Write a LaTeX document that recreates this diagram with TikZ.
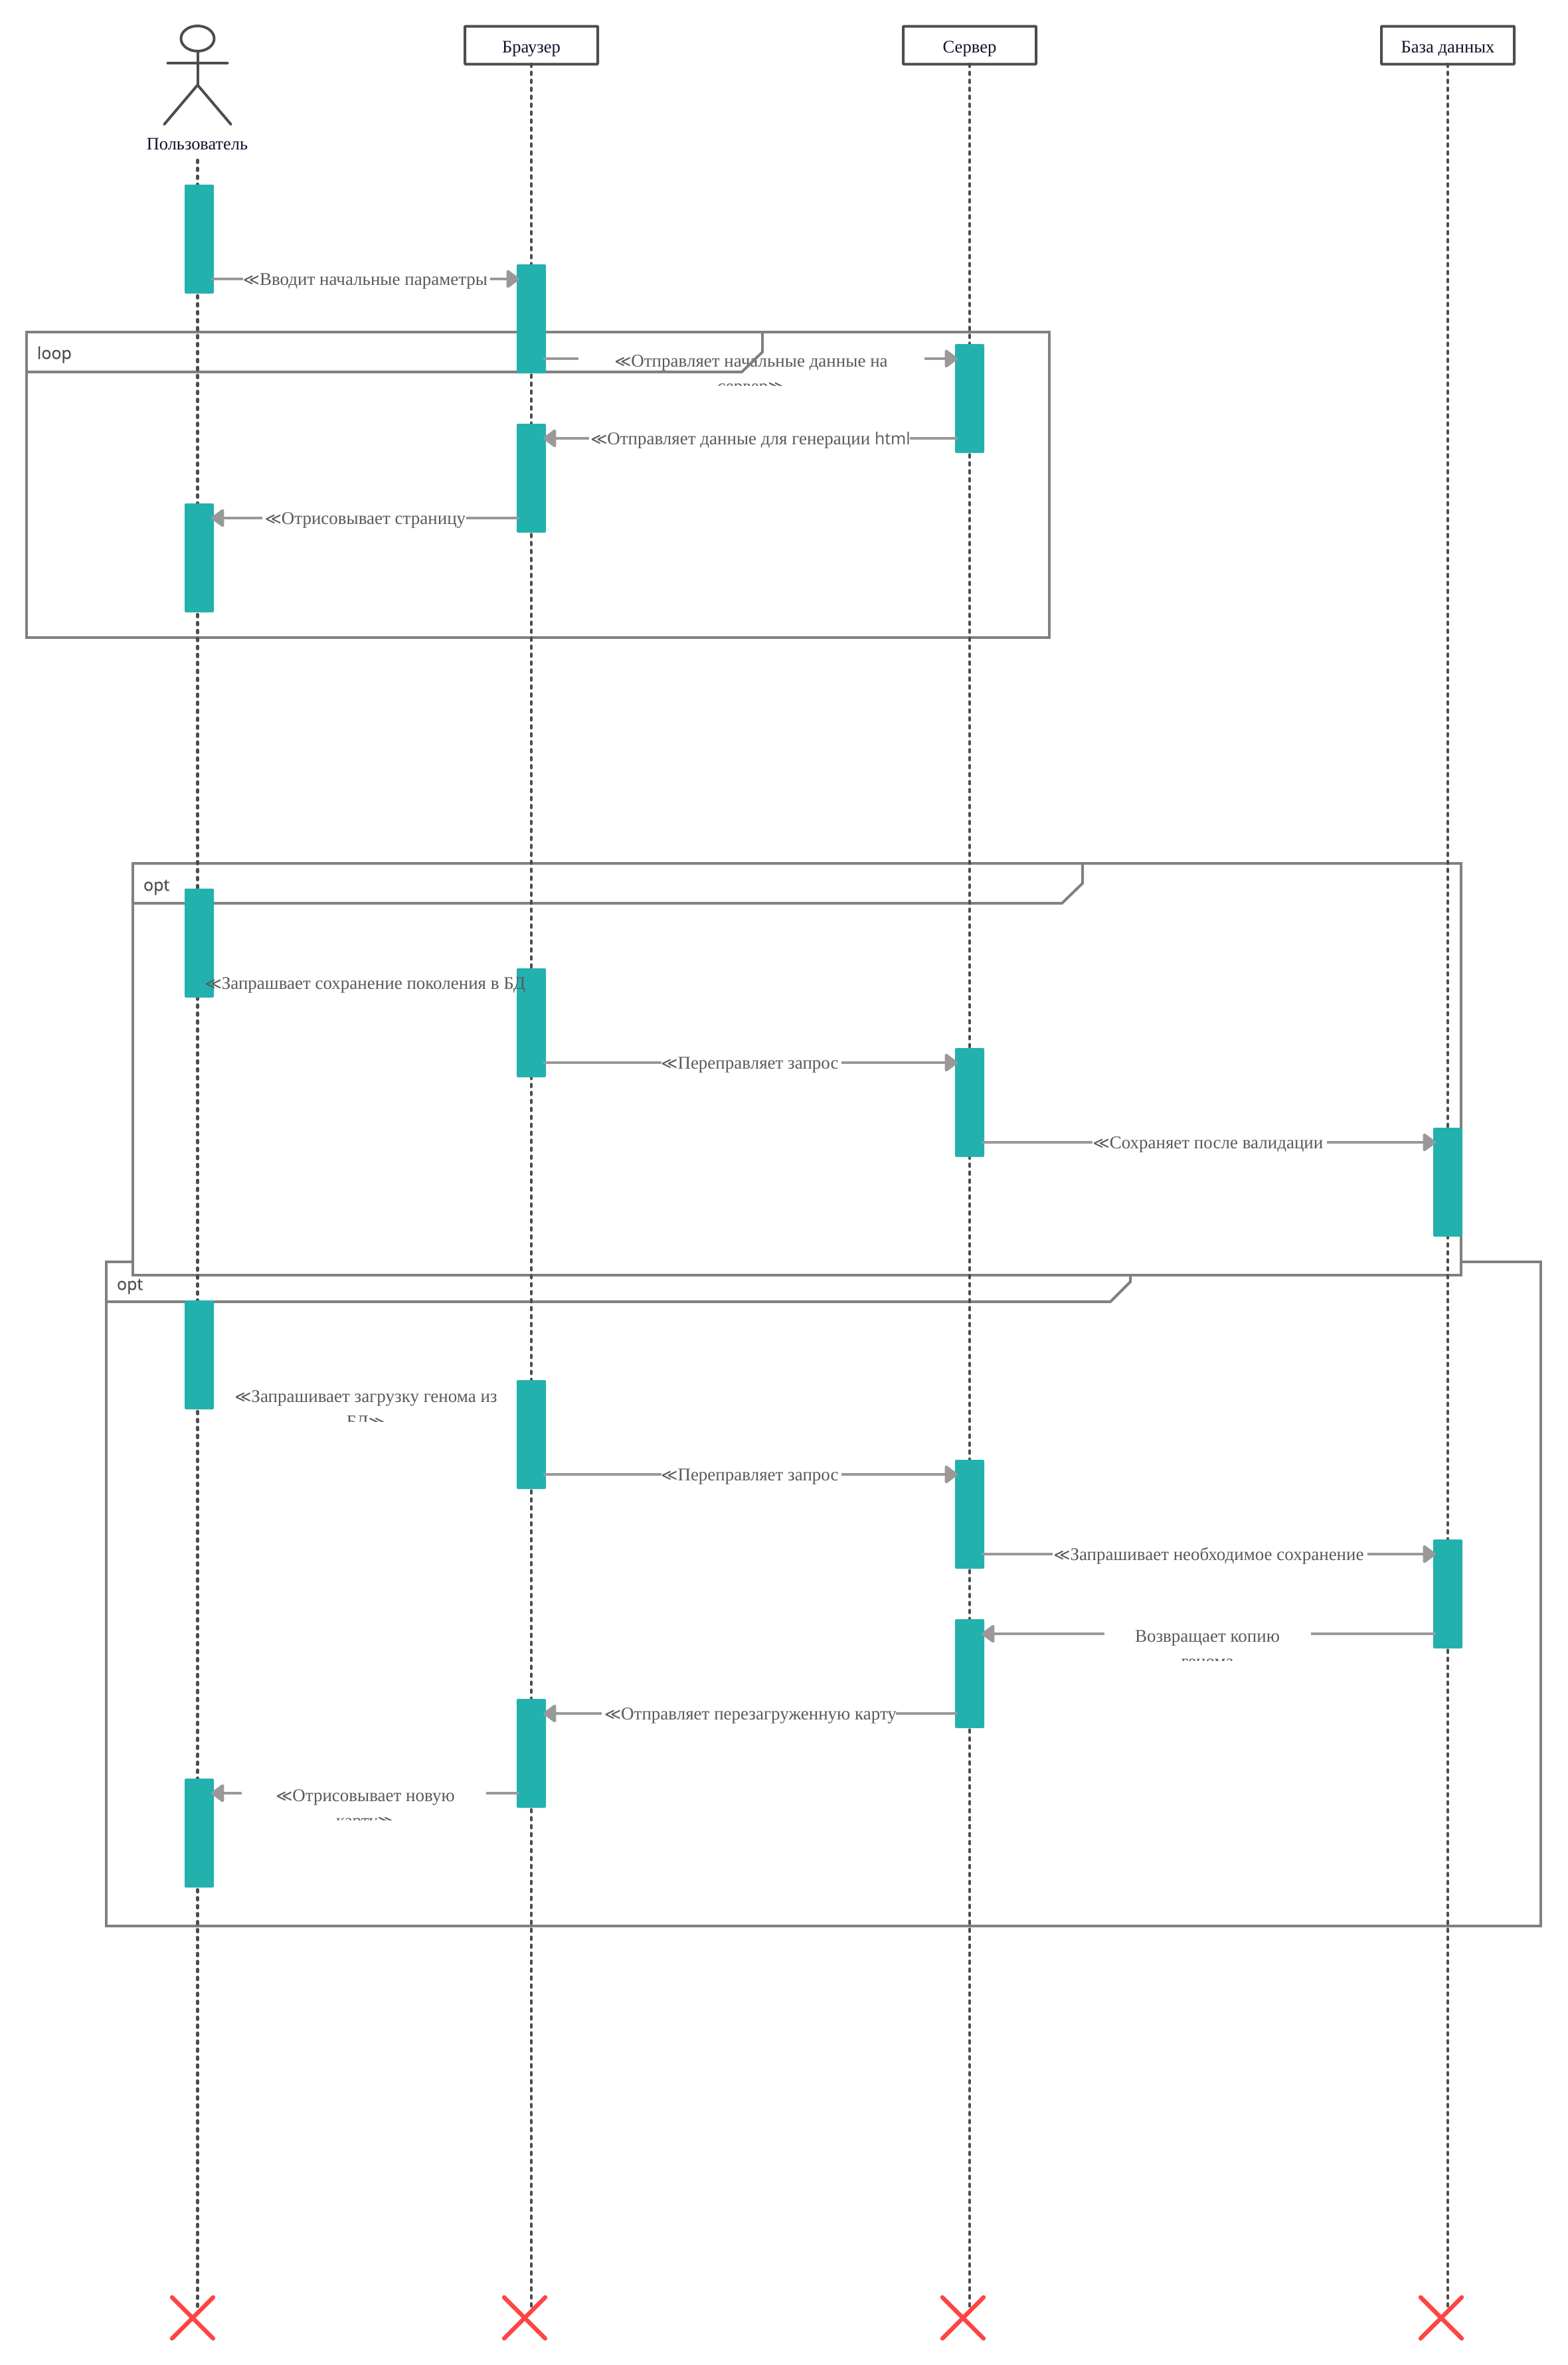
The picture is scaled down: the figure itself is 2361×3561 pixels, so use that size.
\documentclass[tikz,border=0pt]{standalone}
\usepackage{fontspec}
\usetikzlibrary{arrows.meta}
\setmainfont{Liberation Serif}
\newfontfamily\dvs{DejaVu Sans}
\newfontfamily\opens{Open Sans}
\newfontfamily\opensb[FakeBold=0.6]{Open Sans}
\definecolor{actcol}{HTML}{23B1AE}
\definecolor{inkc}{HTML}{4D4D4D}
\definecolor{msgc}{HTML}{5A5A5A}
\definecolor{headc}{HTML}{12122E}
\definecolor{framec}{HTML}{808080}
\definecolor{arrc}{HTML}{999999}
\definecolor{xcol}{HTML}{FF4444}
\newcommand{\lls}{{\dvs\fontsize{12}{12}\selectfont ≪}}
\newcommand{\ggs}{{\dvs\fontsize{12}{12}\selectfont ≫}}
\tikzset{
  headbox/.style={draw=inkc,line width=2pt,fill=white,minimum width=100pt,minimum height=28.5pt,inner sep=0pt,outer sep=0pt,text=headc,font=\fontsize{13.3}{16}\selectfont,rounded corners=0.5pt,text height=11.3pt,text depth=0pt},
  actorlabel/.style={inner sep=0pt,outer sep=0pt,text=headc,font=\fontsize{13.2}{16}\selectfont},
  actorline/.style={draw=inkc,line width=2pt,line cap=round},
  lifeline/.style={draw=inkc,line width=2.2pt,line cap=round,dash pattern=on 1.9pt off 4.1pt},
  actbar/.style={fill=actcol,draw=none,minimum width=22pt,minimum height=82pt,inner sep=0pt,outer sep=0pt,rounded corners=1pt},
  frameline/.style={draw=framec,line width=2pt},
  framelabel/.style={text=inkc,inner sep=0pt,outer sep=0pt,font=\opensb\fontsize{12.5}{15}\selectfont},
  gapnode/.style={inner sep=0pt,outer sep=0pt,minimum height=0pt},
  msgtext/.style={text=msgc,inner sep=0pt,outer sep=0pt,anchor=base,font=\fontsize{13.5}{19}\selectfont},
  flow/.style={draw=arrc,line width=2.2pt,shorten <=-2pt,shorten >=-2pt},
  flowtip/.style={flow,-{Triangle[length=10.5pt,width=15pt,round,fill=arrc]}},
  endmark/.style={draw=xcol,line width=3.2pt,line cap=round},
}
\begin{document}
\begin{tikzpicture}[x=0.5pt,y=-0.5pt]
\useasboundingbox (0,0) rectangle (2361,3561);
\fill[white] (0,0) rectangle (2361,3561);

% frames under everything: opt 2, then opt 1
\draw[frameline] (160,1900) rectangle (2320,2900);
\draw[frameline] (160,1960) -- (1672,1960) -- (1702,1930) -- (1702,1900);
\node[framelabel,anchor=west] (opttwo) at (176,1937) {opt};
\draw[frameline,fill=white] (200,1300) rectangle (2200,1920);
\draw[frameline] (200,1360) -- (1599,1360) -- (1630,1330) -- (1630,1300);
\node[framelabel,anchor=west] (optone) at (216,1336) {opt};

% message texts
\node[msgtext] (t1) at (550,429.5) {\lls Вводит начальные параметры};
\begin{scope}
\clip (867,510) rectangle (1392,580);
\node[msgtext,align=center] (t2) at (1131,590) {\lls Отправляет начальные данные на\\сервер\ggs};
\end{scope}
\node[msgtext] (t3) at (1130,669.5) {\lls Отправляет данные для генерации {\opens\fontsize{12.5}{15}\selectfont html}};
\node[msgtext] (t4) at (550,789.5) {\lls Отрисовывает страницу};
\node[msgtext] (t6) at (1129,1609.5) {\lls Переправляет запрос};
\node[msgtext] (t7) at (1819,1729.5) {\lls Сохраняет после валидации};
\begin{scope}
\clip (322,2060) rectangle (778,2140);
\node[msgtext,align=center] (t8) at (551,2149) {\lls Запрашивает загрузку генома из\\БД\ggs};
\end{scope}
\node[msgtext] (t9) at (1129,2229.5) {\lls Переправляет запрос};
\node[msgtext] (t10) at (1820,2349.5) {\lls Запрашивает необходимое сохранение};
\begin{scope}
\clip (1663,2430) rectangle (1978,2500);
\node[msgtext,align=center] (t11) at (1818,2510) {Возвращает копию\\генома};
\end{scope}
\node[msgtext] (t12) at (1130,2589.5) {\lls Отправляет перезагруженную карту};
\begin{scope}
\clip (364,2670) rectangle (736,2740);
\node[msgtext,align=center] (t13) at (550,2750) {\lls Отрисовывает новую\\карту\ggs};
\end{scope}

% loop frame lies over the texts
\draw[frameline] (40,500) rectangle (1580,960);
\draw[frameline] (40,560) -- (1117,560) -- (1148,530) -- (1148,500);
\node[framelabel,anchor=west] (looplab) at (56,534) {loop};

% participants
\node[headbox] (brow) at (800,68) {Браузер};
\node[headbox] (serv) at (1460,68) {Сервер};
\node[headbox] (dbase) at (2180,68) {База данных};
\draw[actorline] (297.5,58) ellipse [x radius=25,y radius=19];
\draw[actorline] (297.5,77) -- (297.5,128);
\draw[actorline] (252.5,95) -- (342.5,95);
\draw[actorline] (247.5,187) -- (297.5,128) -- (347.5,187);
\node[actorlabel] (user) at (297,217) {Пользователь};
\coordinate (usertail) at (297.5,241);
\coordinate (userend) at (297.5,3477);
\coordinate (browend) at (800,3477);
\coordinate (servend) at (1460,3477);
\coordinate (dbend) at (2180,3477);

% lifelines
\draw[lifeline] (usertail) -- (userend);
\draw[lifeline] (brow.south) -- (browend);
\draw[lifeline] (serv.south) -- (servend);
\draw[lifeline] (dbase.south) -- (dbend);

% activations
\node[actbar] (u1) at (300,360) {};
\node[actbar] (u2) at (300,840) {};
\node[actbar] (u3) at (300,1420) {};
\node[actbar] (u4) at (300,2040) {};
\node[actbar] (u5) at (300,2760) {};
\node[actbar] (b1) at (800,480) {};
\node[actbar] (b2) at (800,720) {};
\node[actbar] (b3) at (800,1540) {};
\node[actbar] (b4) at (800,2160) {};
\node[actbar] (b5) at (800,2640) {};
\node[actbar] (s1) at (1460,600) {};
\node[actbar] (s2) at (1460,1660) {};
\node[actbar] (s3) at (1460,2280) {};
\node[actbar] (s4) at (1460,2520) {};
\node[actbar] (d1) at (2180,1780) {};
\node[actbar] (d2) at (2180,2400) {};

% label gaps the connectors stop at
\node[gapnode,minimum width=188pt] (g1) at (550,420) {};
\node[gapnode,minimum width=262.5pt] (g2) at (1129.5,540) {};
\node[gapnode,minimum width=243.5pt] (g3) at (1130.5,660) {};
\node[gapnode,minimum width=155.5pt] (g4) at (550.5,780) {};
\node[gapnode,minimum width=137.5pt] (g6) at (1129.5,1600) {};
\node[gapnode,minimum width=178.5pt] (g7) at (1819.5,1720) {};
\node[gapnode,minimum width=137.5pt] (g9) at (1129.5,2220) {};
\node[gapnode,minimum width=239pt] (g10) at (1820,2340) {};
\node[gapnode,minimum width=157.5pt] (g11) at (1820.5,2460) {};
\node[gapnode,minimum width=223.5pt] (g12) at (1129.5,2580) {};
\node[gapnode,minimum width=186pt] (g13) at (550,2700) {};

% connectors
\draw[flow] (u1.east|-g1) -- (g1.west);
\draw[flowtip,shorten <=0pt] (g1.east) -- (b1.west|-g1);
\draw[flow] (b1.east|-g2) -- (g2.west);
\draw[flowtip,shorten <=0pt] (g2.east) -- (s1.west|-g2);
\draw[flow] (s1.west|-g3) -- (g3.east);
\draw[flowtip,shorten <=0pt] (g3.west) -- (b2.east|-g3);
\draw[flow] (b2.west|-g4) -- (g4.east);
\draw[flowtip,shorten <=0pt] (g4.west) -- (u2.east|-g4);
\draw[flow] (b3.east|-g6) -- (g6.west);
\draw[flowtip,shorten <=0pt] (g6.east) -- (s2.west|-g6);
\draw[flow] (s2.east|-g7) -- (g7.west);
\draw[flowtip,shorten <=0pt] (g7.east) -- (d1.west|-g7);
\draw[flow] (b4.east|-g9) -- (g9.west);
\draw[flowtip,shorten <=0pt] (g9.east) -- (s3.west|-g9);
\draw[flow] (s3.east|-g10) -- (g10.west);
\draw[flowtip,shorten <=0pt] (g10.east) -- (d2.west|-g10);
\draw[flow] (d2.west|-g11) -- (g11.east);
\draw[flowtip,shorten <=0pt] (g11.west) -- (s4.east|-g11);
\draw[flow] (s4.west|-g12) -- (g12.east);
\draw[flowtip,shorten <=0pt] (g12.west) -- (b5.east|-g12);
\draw[flow] (b5.west|-g13) -- (g13.east);
\draw[flowtip,shorten <=0pt] (g13.west) -- (u5.east|-g13);

% text lying over the activations
\node[msgtext] (t5) at (550,1489.5) {\lls Запрашвает сохранение поколения в БД};

% destruction marks
\draw[endmark] (259,3459) -- (321,3521) (321,3459) -- (259,3521);
\draw[endmark] (759,3459) -- (821,3521) (821,3459) -- (759,3521);
\draw[endmark] (1419,3459) -- (1481,3521) (1481,3459) -- (1419,3521);
\draw[endmark] (2139,3459) -- (2201,3521) (2201,3459) -- (2139,3521);
\end{tikzpicture}
\end{document}
